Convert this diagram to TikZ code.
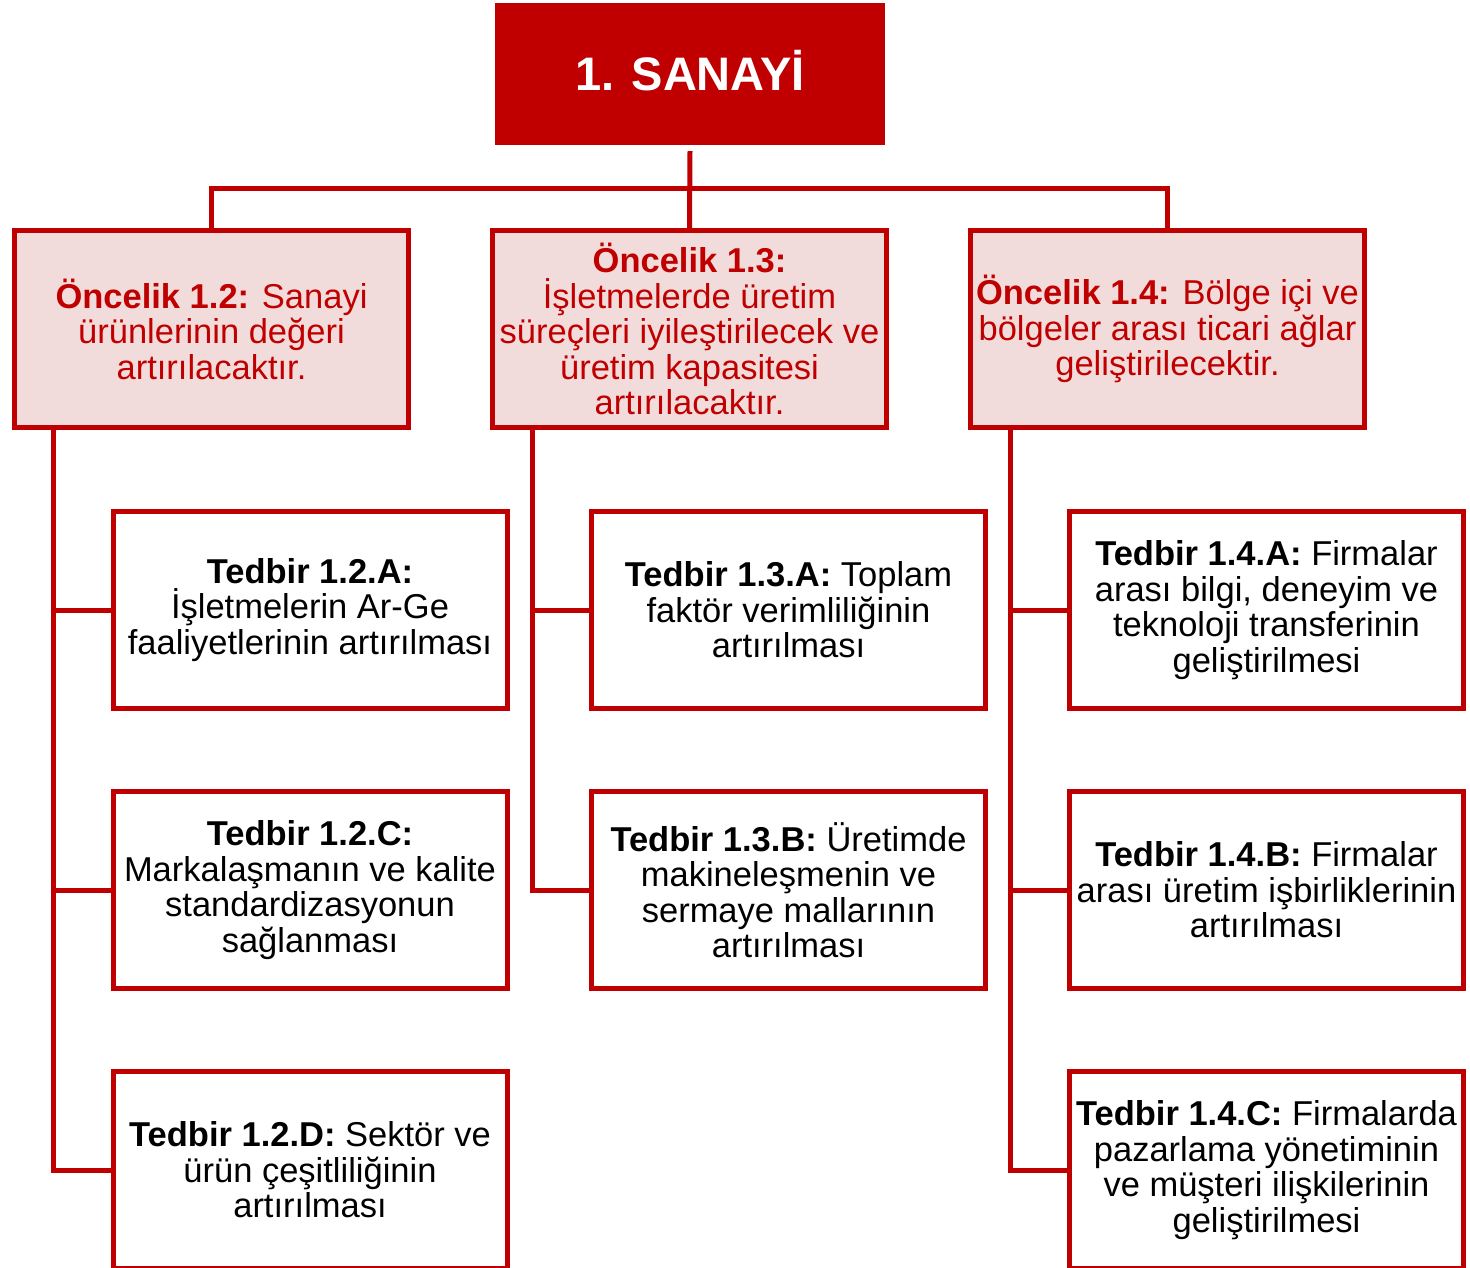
\documentclass[tikz,border=0pt]{standalone}
\usepackage{fontspec}
\setmainfont{Liberation Sans}
\usetikzlibrary{positioning}
\definecolor{koyukirmizi}{HTML}{C00000}
\definecolor{pembe}{HTML}{F2DCDB}
\tikzset{ %styles for the boxes and the lines
  baslik/.style={fill=koyukirmizi, text=white, minimum width=390pt, minimum height=142pt,
    font=\fontsize{47pt}{50pt}\selectfont\bfseries, text height=33pt, text depth=0pt},
  oncelik/.style={draw=koyukirmizi, line width=5pt, fill=pembe, text=koyukirmizi,
    minimum width=394pt, minimum height=197pt, inner sep=0pt, align=center,
    font=\fontsize{34.5pt}{35.5pt}\selectfont},
  tedbir/.style={oncelik, fill=white, text=black},
  baglanti/.style={draw=koyukirmizi, line width=5pt}
}

\begin{document}
\begin{tikzpicture}[x=1pt,y=-1pt] % y grows downwards, like the picture
\useasboundingbox (0,0) rectangle (1470,1268);
\clip (0,0) rectangle (1470,1268);

\node [baslik] (sanayi) at (690,74) {1. SANAYİ};

% priorities
\node [oncelik] (o12) at (211.5,329) {\textbf{Öncelik 1.2:} Sanayi\\ürünlerinin değeri\\artırılacaktır.};
\node [oncelik] (o13) at (689.5,329) {\textbf{Öncelik 1.3:}\\İşletmelerde üretim\\süreçleri iyileştirilecek ve\\üretim kapasitesi\\artırılacaktır.};
\node [oncelik] (o14) at (1167.5,329) {\textbf{Öncelik 1.4:} Bölge içi ve\\bölgeler arası ticari ağlar\\geliştirilecektir.};

% measures
\node [tedbir] (t12a) at (310,610) {\textbf{Tedbir 1.2.A:}\\İşletmelerin Ar-Ge\\faaliyetlerinin artırılması};
\node [tedbir, below=78pt of t12a] (t12c) {\textbf{Tedbir 1.2.C:}\\Markalaşmanın ve kalite\\standardizasyonun\\sağlanması};
\node [tedbir, below=78pt of t12c] (t12d) {\textbf{Tedbir 1.2.D:} Sektör ve\\ürün çeşitliliğinin\\artırılması};

\node [tedbir] (t13a) at (788.5,610) {\textbf{Tedbir 1.3.A:} Toplam\\faktör verimliliğinin\\artırılması};
\node [tedbir, below=78pt of t13a] (t13b) {\textbf{Tedbir 1.3.B:} Üretimde\\makineleşmenin ve\\sermaye mallarının\\artırılması};

\node [tedbir] (t14a) at (1266.5,610) {\textbf{Tedbir 1.4.A:} Firmalar\\arası bilgi, deneyim ve\\teknoloji transferinin\\geliştirilmesi};
\node [tedbir, below=78pt of t14a] (t14b) {\textbf{Tedbir 1.4.B:} Firmalar\\arası üretim işbirliklerinin\\artırılması};
\node [tedbir, below=78pt of t14b] (t14c) {\textbf{Tedbir 1.4.C:} Firmalarda\\pazarlama yönetiminin\\ve müşteri ilişkilerinin\\geliştirilmesi};

% connectors
\coordinate (bus) at (690,189);
\draw [baglanti] ([yshift=-6pt]sanayi.south) -- (o13.north);
\draw [baglanti] (o12.north) |- (bus) -| (o14.north);

\draw [baglanti] ([xshift=41pt]o12.south west) |- (t12a.west);
\draw [baglanti] ([xshift=41pt]o12.south west) |- (t12c.west);
\draw [baglanti] ([xshift=41pt]o12.south west) |- (t12d.west);
\draw [baglanti] ([xshift=42pt]o13.south west) |- (t13a.west);
\draw [baglanti] ([xshift=42pt]o13.south west) |- (t13b.west);
\draw [baglanti] ([xshift=42pt]o14.south west) |- (t14a.west);
\draw [baglanti] ([xshift=42pt]o14.south west) |- (t14b.west);
\draw [baglanti] ([xshift=42pt]o14.south west) |- (t14c.west);

\end{tikzpicture}
\end{document}
